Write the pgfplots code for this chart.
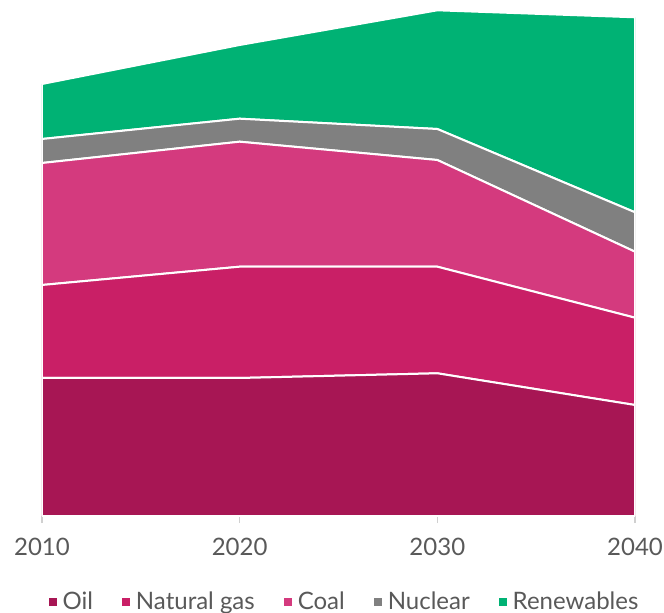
\documentclass[border=0pt]{standalone}
\usepackage{pgfplots}
\pgfplotsset{compat=1.18}
\usepackage{fontspec}
\setmainfont{Lato}
\definecolor{oilc}{HTML}{A71654}
\definecolor{gasc}{HTML}{C91F66}
\definecolor{coalc}{HTML}{D43A7E}
\definecolor{nucc}{HTML}{808080}
\definecolor{renc}{HTML}{00B274}
\definecolor{txtc}{HTML}{595959}
\definecolor{axc}{HTML}{D0D0D0}
\begin{document}
\begin{tikzpicture}[x=1pt,y=1pt]
\useasboundingbox (-42pt,-97pt) rectangle (622pt,516pt);
\begin{axis}[
  name=ax,
  at={(0,0)}, anchor=south west,
  scale only axis,
  width=593pt, height=516pt,
  xmin=2010, xmax=2040, ymin=0, ymax=516,
  stack plots=y,
  axis x line*=bottom,
  axis y line=none,
  x axis line style={axc, line width=1.2pt, -},
  xtick={2010,2020,2030,2040},
  xticklabels={2010,2020,2030,2040},
  tick align=outside,
  major tick length=7pt,
  xtick style={axc, line width=1.2pt},
  ytick=\empty,
  /pgf/number format/assume math mode=true,
  xticklabel style={font=\fontsize{24}{28}\selectfont, text=txtc, yshift=-12pt},
  axis on top=false,
  legend columns=5,
  legend style={
    at={(0.5,0)}, anchor=center, yshift=-85pt, xshift=5pt,
    draw=none, fill=none,
    font=\fontsize{24}{28}\selectfont, text=txtc,
    /tikz/every even column/.append style={column sep=25pt},
    /tikz/every odd column/.append style={column sep=2pt},
  },
  legend image code/.code={\fill[#1] (0pt,-5.5pt) rectangle (10pt,4.5pt);},
  every axis plot/.append style={draw=white, line width=2pt, line join=round},
]
\addplot[fill=oilc] coordinates {(2010,138) (2020,138) (2030,142.7) (2040,111)} \closedcycle;
\addlegendentry{Oil}
\addplot[fill=gasc] coordinates {(2010,93) (2020,111.3) (2030,106.6) (2040,87.3)} \closedcycle;
\addlegendentry{Natural gas}
\addplot[fill=coalc] coordinates {(2010,122) (2020,125) (2030,106.7) (2040,66)} \closedcycle;
\addlegendentry{Coal}
\addplot[fill=nucc] coordinates {(2010,24) (2020,23) (2030,31) (2040,39.4)} \closedcycle;
\addlegendentry{Nuclear}
\addplot[fill=renc] coordinates {(2010,55) (2020,73.7) (2030,118.7) (2040,195)} \closedcycle;
\addlegendentry{Renewables}
\end{axis}
\end{tikzpicture}
\end{document}
